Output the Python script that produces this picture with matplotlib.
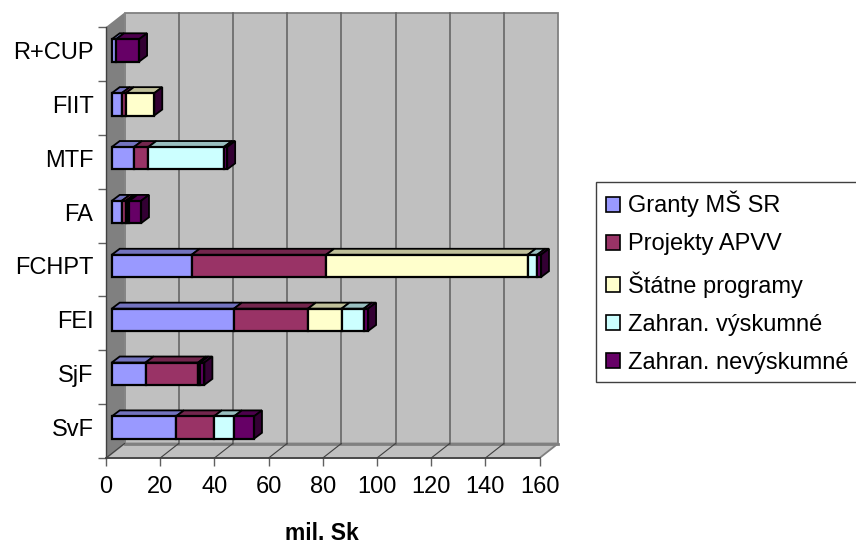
import matplotlib
matplotlib.use('Agg')
import numpy as np
import matplotlib.pyplot as plt
from matplotlib.patches import Polygon, Patch, Rectangle

plt.rcParams['font.family'] = ['Liberation Sans', 'DejaVu Sans']

faculties = ['SvF', 'SjF', 'FEI', 'FCHPT', 'FA', 'MTF', 'FIIT', 'R+CUP']
granty = [23.7, 12.5, 45.1, 29.5, 3.7, 8.2, 3.7, 1.6]
projekty = [14.0, 19.4, 27.3, 49.6, 1.5, 5.3, 1.5, 0.0]
statne = [0.0, 0.0, 12.4, 74.4, 0.3, 0.0, 10.5, 0.0]
vyskumne = [7.4, 0.8, 8.2, 3.5, 1.0, 27.9, 0.0, 0.0]
nevyskumne = [7.4, 1.5, 1.6, 1.4, 4.3, 1.2, 0.0, 8.5]

series = [granty, projekty, statne, vyskumne, nevyskumne]
names = ['Granty MŠ SR', 'Projekty APVV', 'Štátne programy', 'Zahran. výskumné', 'Zahran. nevýskumné']
front = ['#9999FF', '#993366', '#FFFFCC', '#CCFFFF', '#660066']
top = ['#7373BF', '#73264D', '#BFBF99', '#99BFBF', '#4D004D']
side = '#330033'

xticks = np.arange(0, 180, 20)
W, H = 856, 545
px = 433.6 / 160  # pixels per unit
band = 431 / 8

# depth of the walls and the bars, in data units
wall_dx, wall_dy = 18.5 / px, 14.5 / band
bar_dx, bar_dy = 8 / px, 6 / band
gap = 5.7 / px
bar_h, bar_y = 0.415, 0.357

fig = plt.figure(figsize=(W / 100, H / 100), dpi=100)
ax = fig.add_axes([106 / W, 1 - 458 / H, 433.6 / W, 431 / H])
ax.set_xlim(0, 160)
ax.set_ylim(0, 8)


def poly(pts, fc, ec='none', lw=0, z=1):
    ax.add_patch(Polygon(pts, closed=True, facecolor=fc, edgecolor=ec, linewidth=lw,
                         zorder=z, clip_on=False, joinstyle='miter'))


# walls and floor
poly([(wall_dx, wall_dy), (160 + wall_dx, wall_dy), (160 + wall_dx, 8 + wall_dy), (wall_dx, 8 + wall_dy)], '#C0C0C0', '#808080', 1.3)
poly([(0, 0), (wall_dx, wall_dy), (wall_dx, 8 + wall_dy), (0, 8)], '#808080')
poly([(0, 0), (160, 0), (160 + wall_dx, wall_dy), (wall_dx, wall_dy)], '#C0C0C0', '#808080', 1.3)
ax.plot([wall_dx, 160 + wall_dx], [wall_dy, wall_dy], color='#808080', lw=2, zorder=1.5, clip_on=False)
for t in xticks[1:-1]:
    ax.plot([t + wall_dx] * 2, [wall_dy, 8 + wall_dy], color='#666666', lw=1.2, zorder=2, clip_on=False)
for t in xticks[:-1]:
    ax.plot([t, t + wall_dx], [0, wall_dy], color='#404040', lw=0.8, zorder=2, clip_on=False)
ax.plot([0, 160], [0, 0], color='#404040', lw=1.2, zorder=2, clip_on=False)

# bars, top row first so nearer ones sit on top
for i in range(len(faculties) - 1, -1, -1):
    y0 = i + bar_y
    y1 = y0 + bar_h
    left = gap
    z = 3 + (len(faculties) - i)
    last = 0
    for s, vals in enumerate(series):
        v = vals[i]
        if v == 0:
            continue
        last = left + v
        poly([(left, y1), (left + v, y1), (left + v + bar_dx, y1 + bar_dy), (left + bar_dx, y1 + bar_dy)],
             top[s], 'black', 1.3, z)
        ax.barh(y0, v, height=bar_h, left=left, align='edge', color=front[s], edgecolor='black',
                linewidth=1.6, zorder=z + 0.1, clip_on=False)
        left += v
    poly([(last, y0), (last + bar_dx, y0 + bar_dy), (last + bar_dx, y1 + bar_dy), (last, y1)],
         side, 'black', 1.3, z)

for sp in ax.spines.values():
    sp.set_visible(False)
ax.patch.set_visible(False)
ax.set_xticks(xticks)
ax.set_yticks(np.arange(0.565, 8), faculties)
ax.set_yticks(np.arange(0, 9), minor=True)
ax.tick_params(axis='x', length=6, width=1, color='#606060', labelsize=17, pad=7, labelcolor='black')
ax.tick_params(axis='y', which='major', length=0, labelsize=17, pad=9)
ax.tick_params(axis='y', which='minor', length=6, width=1, color='#606060')
ax.plot([0, 0], [0, 8], color='#404040', lw=1, zorder=2, clip_on=False)
fig.text(322 / W, 1 - 534 / H, 'mil. Sk', ha='center', va='center', fontsize=16.5, fontweight='bold')

# legend box runs off the right edge of the picture
fig.add_artist(Rectangle((595.5 / W, 1 - 381.5 / H), 270 / W, 199.5 / H, transform=fig.transFigure,
                         facecolor='white', edgecolor='#404040', linewidth=1.0))
handles = [Patch(facecolor=c, edgecolor='black', linewidth=1.2) for c in front]
leg = fig.legend(handles, names, loc='upper left', bbox_to_anchor=(595.5 / W, 1 - 180.5 / H), borderaxespad=0,
                 fontsize=17, frameon=False,
                 handlelength=0.6, handleheight=0.6, handletextpad=0.34, labelspacing=0.68, borderpad=0.44)

fig.savefig('out.png', dpi=100)
